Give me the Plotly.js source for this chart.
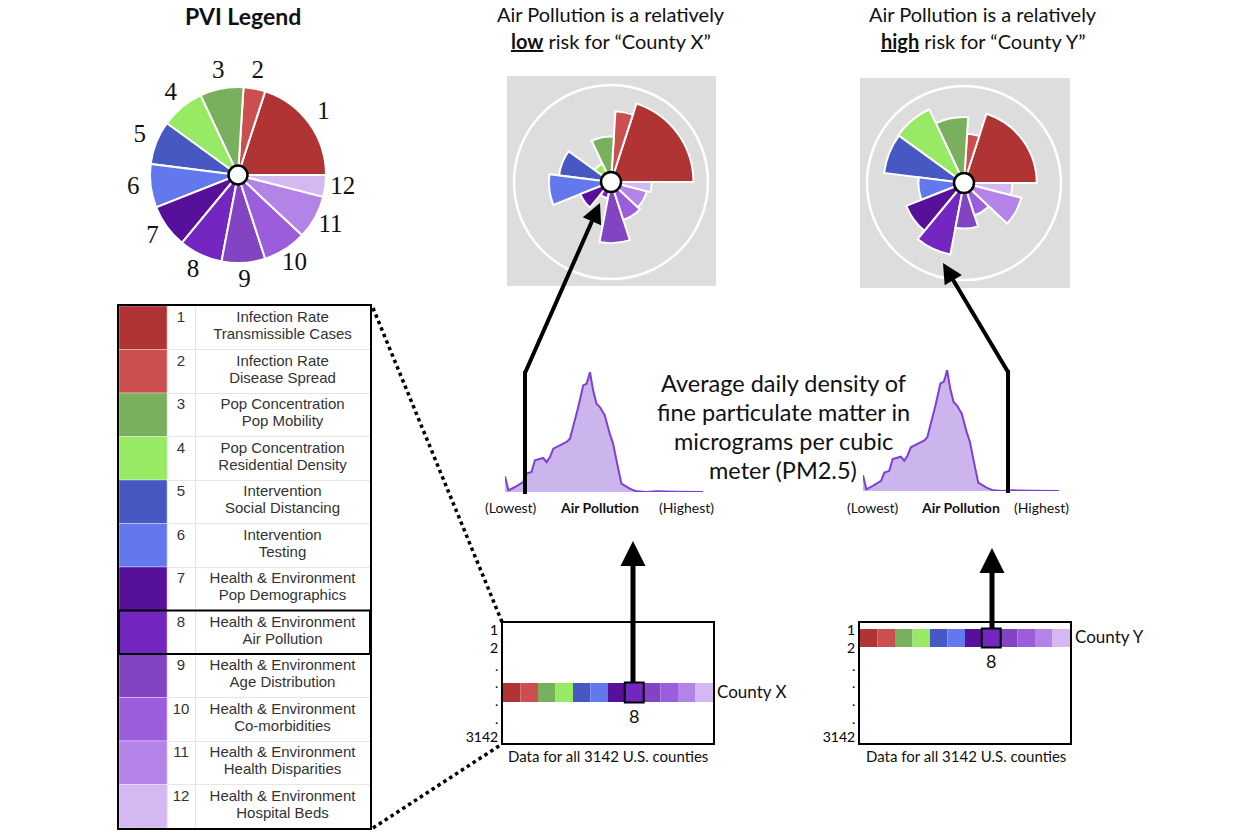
<!DOCTYPE html>
<html><head><meta charset="utf-8">
<script src="https://cdn.plot.ly/plotly-3.0.1.min.js"></script>
<style>html,body{margin:0;padding:0;background:#fff}#chart{width:1254px;height:836px}</style>
</head><body><div id="chart"></div>
<script>
// ---------------- DATA ----------------
const factorIds = [1,2,3,4,5,6,7,8,9,10,11,12];
const factorGroups = ['Infection Rate','Infection Rate','Pop Concentration','Pop Concentration','Intervention','Intervention',
  'Health & Environment','Health & Environment','Health & Environment','Health & Environment','Health & Environment','Health & Environment'];
const factorNames = ['Transmissible Cases','Disease Spread','Pop Mobility','Residential Density','Social Distancing','Testing',
  'Pop Demographics','Air Pollution','Age Distribution','Co-morbidities','Health Disparities','Hospital Beds'];
const factorWeights = [20,4,8,8,8,8,8,8,8,8,8,4];          // percent of the circle
const legendRadius = [1,1,1,1,1,1,1,1,1,1,1,1];
const countyXScores = [0.85,0.73,0.47,0.21,0.54,0.64,0.34,0.17,0.63,0.41,0.38,0.42];
const countyYScores = [0.75,0.51,0.68,0.84,0.83,0.47,0.64,0.75,0.47,0.35,0.61,0.50];
const pm25Level   = [0,1.7,5.0,9.2,10.9,13.4,15.1,17.6,19.3,21.0,22.7,24.4,26.1,31.1,32.8,35.3,37.0,39.5,41.2,42.0,42.9,44.5,46.2,47.9,50.4,52.9,54.6,56.3,58.8,63.0,66.4,71.4,76.5,86.6,100];
const pm25Density = [47,5,15,30,55,60,95,100,102,90,105,130,135,150,160,215,255,320,325,340,360,305,265,255,230,175,145,95,25,10,2,0,2,1,0];
const countyXPollution = 10.1;
const countyYPollution = 74;
const highlightedFactor = 8;
const countyRowLabels = ['1','2','.','.','.','.','3142'];
const countyXName = 'County X', countyYName = 'County Y';

// ---------------- STYLE ----------------
const factorColors = ['#b03434','#cc4f4f','#78b05e','#98ea64','#4758c3','#6478ee','#56109a','#7326c0','#8244c2','#9b5ddc','#b383e8','#d4b8f1'];
const W = 1254, H = 836;
const P = x => x / W, Q = y => 1 - y / H;
const SANS = 'Lato, "Open Sans", sans-serif';
const TABLE_FONT = '"Liberation Sans", Arial, sans-serif';
const SERIF = '"Liberation Serif", "DejaVu Serif", serif';

const widths = factorWeights.map(w => w * 3.6);
let acc = 0;
const thetas = widths.map(w => { const t = acc + w / 2; acc += w; return t; });

const LEG_RMAX = 1.3;
const LEG = {cx:238, cy:175, R:88 * LEG_RMAX};
const RX = {cx:611, cy:182, R:97};
const RY = {cx:964, cy:183, R:97};

function polarCfg(c, outline, rmax) {
  return {
    domain: {x:[P(c.cx - c.R), P(c.cx + c.R)], y:[Q(c.cy + c.R), Q(c.cy - c.R)]},
    bgcolor: 'rgba(0,0,0,0)',
    radialaxis: {visible:false, range:[0, rmax]},
    angularaxis: {visible:true, showline:outline, linecolor:'#ffffff', linewidth:2.5, showgrid:false,
      showticklabels:false, ticks:'', rotation:0, direction:'counterclockwise'}
  };
}
function rose(r, sub) {
  return {type:'barpolar', subplot:sub, r:r, theta:thetas, width:widths,
    marker:{color:factorColors, line:{color:'#ffffff', width:2}}, hoverinfo:'skip'};
}

const HX = {x0:505, x1:703, y0:492, y1:372};
const HY = {x0:863, x1:1059, y0:491, y1:370};
const BX = {x0:503, x1:713, y0:623, y1:743, stripTop:60, stripH:19};
const BY = {x0:860, x1:1070, y0:623, y1:743, stripTop:6, stripH:18};
const ROW_TICK_POS = [7,25,43,60,78,96,114];
const TB = {x0:119, x1:370, y0:306, y1:828, sw:48, nw:76};

const traces = [];
// PVI legend pie
traces.push(rose(legendRadius, 'polar'));
traces.push({type:'scatterpolar', subplot:'polar', mode:'text', r:factorIds.map(()=>1.2), theta:thetas,
  text:factorIds.map(String), textfont:{family:SERIF, size:25, color:'#111'}, cliponaxis:false, hoverinfo:'skip'});
// County roses
traces.push(rose(countyXScores, 'polar2'));
traces.push(rose(countyYScores, 'polar3'));

// Histograms
function hist(xa, ya) {
  return {type:'scatter', mode:'lines', x:pm25Level, y:pm25Density, xaxis:xa, yaxis:ya, fill:'tozeroy',
    fillcolor:'#ccb4ec', line:{color:'#7d3fd6', width:2}, cliponaxis:false, hoverinfo:'skip'};
}
traces.push(hist('x','y'));
traces.push(hist('x2','y2'));

// Strips
function strip(xa, ya, b) {
  return [{type:'bar', x:factorIds, y:factorIds.map(()=>b.stripH), base:factorIds.map(()=>b.stripTop), width:1,
    xaxis:xa, yaxis:ya, marker:{color:factorColors, line:{width:0}}, hoverinfo:'skip'},
   {type:'bar', x:[highlightedFactor], y:[b.stripH + 1], base:[b.stripTop - 0.5], width:1.08,
    xaxis:xa, yaxis:ya, marker:{color:'rgba(0,0,0,0)', line:{color:'#000', width:2}}, hoverinfo:'skip'}];
}
traces.push(...strip('x3','y3',BX));
traces.push(...strip('x4','y4',BY));

// Legend table
traces.push({type:'bar', orientation:'h', y:factorIds, x:factorIds.map(()=>TB.sw), base:0, width:1,
  xaxis:'x5', yaxis:'y5', marker:{color:factorColors, line:{color:'rgba(255,255,255,0.35)', width:1}}, hoverinfo:'skip'});
const labCx = (TB.nw + (TB.x1 - TB.x0)) / 2;
traces.push({type:'scatter', mode:'text', xaxis:'x5', yaxis:'y5', x:factorIds.map(()=>(TB.sw + TB.nw)/2),
  y:factorIds.map(i=>i-0.21), text:factorIds.map(String), textfont:{family:TABLE_FONT, size:15, color:'#333'}, hoverinfo:'skip'});
traces.push({type:'scatter', mode:'text', xaxis:'x5', yaxis:'y5', x:factorIds.map(()=>labCx),
  y:factorIds.map(i=>i-0.21), text:factorGroups, textfont:{family:TABLE_FONT, size:15, color:'#333'}, hoverinfo:'skip'});
traces.push({type:'scatter', mode:'text', xaxis:'x5', yaxis:'y5', x:factorIds.map(()=>labCx),
  y:factorIds.map(i=>i+0.18), text:factorNames, textfont:{family:TABLE_FONT, size:15, color:'#333'}, hoverinfo:'skip'});

// ---------------- LAYOUT ----------------
const hidden = {visible:false, fixedrange:true};
function boxX(b, anchor) {
  return {domain:[P(b.x0), P(b.x1)], range:[0.5,12.5], anchor:anchor, showline:true, mirror:true, linecolor:'#000',
    linewidth:2, showgrid:false, zeroline:false, showticklabels:false, ticks:''};
}
function boxY(b, anchor) {
  return {domain:[Q(b.y1), Q(b.y0)], range:[120,0], anchor:anchor, showline:true, mirror:true, linecolor:'#000',
    linewidth:2, showgrid:false, zeroline:false, tickmode:'array', tickvals:ROW_TICK_POS, ticktext:countyRowLabels,
    tickfont:{family:SANS, size:14, color:'#000'}, ticks:''};
}

function ann(text, x, y, size, extra) {
  return Object.assign({text:text, x:P(x), y:Q(y), xref:'paper', yref:'paper', showarrow:false,
    xanchor:'center', yanchor:'middle', font:{family:SANS, size:size, color:'#111'}}, extra || {});
}
function arrow(tipX, tipY, tailX, tailY, w) {
  return {text:'', x:P(tipX), y:Q(tipY), xref:'paper', yref:'paper', showarrow:true, axref:'pixel', ayref:'pixel',
    ax:tailX - tipX, ay:tailY - tipY, arrowcolor:'#000', arrowwidth:w, arrowhead:2, arrowsize:1, standoff:0,
    font:{size:1}, borderpad:0};
}
const hxPix = HX.x0 + countyXPollution / 100 * (HX.x1 - HX.x0);
const hyPix = HY.x0 + countyYPollution / 100 * (HY.x1 - HY.x0);

const annotations = [
  ann('<b>PVI Legend</b>', 243, 16, 23),
  ann('Air Pollution is a relatively', 611, 14, 20),
  ann('<b><u>low</u></b> risk for “' + countyXName + '”', 611, 41, 20),
  ann('Air Pollution is a relatively', 983, 14, 20),
  ann('<b><u>high</u></b> risk for “' + countyYName + '”', 983, 41, 20),
  ann('Average daily density of', 783, 383, 23.5),
  ann('fine particulate matter in', 783, 412, 23.5),
  ann('micrograms per cubic', 783, 441, 23.5),
  ann('meter (PM2.5)', 783, 470, 23.5),
  ann('(Lowest)', 511, 508, 14), ann('<b>Air Pollution</b>', 599, 508, 14), ann('(Highest)', 686, 508, 14),
  ann('(Lowest)', 873, 508, 14), ann('<b>Air Pollution</b>', 960, 508, 14), ann('(Highest)', 1041, 508, 14),
  {text:String(highlightedFactor), x:highlightedFactor, y:BX.stripTop + BX.stripH + 1, xref:'x3', yref:'y3', showarrow:false,
    yanchor:'top', font:{family:SANS, size:18, color:'#111'}},
  {text:String(highlightedFactor), x:highlightedFactor, y:BY.stripTop + BY.stripH + 1, xref:'x4', yref:'y4', showarrow:false,
    yanchor:'top', font:{family:SANS, size:18, color:'#111'}},
  ann(countyXName, 715, 691, 17, {xanchor:'left'}),
  ann(countyYName, 1073, 636, 17, {xanchor:'left'}),
  ann('Data for all 3142 U.S. counties', 608, 756, 15),
  ann('Data for all 3142 U.S. counties', 966, 756, 15),
  arrow(633, 541, 633, 683, 5),
  arrow(992, 548, 992, 629, 5),
  arrow(600, 203, hxPix, 373, 4),
  arrow(943, 263, hyPix, 372, 4)
];

function circle(c, r) {
  return {type:'circle', xref:'paper', yref:'paper', x0:P(c.cx - r), x1:P(c.cx + r), y0:Q(c.cy + r), y1:Q(c.cy - r),
    fillcolor:'#ffffff', line:{color:'#000', width:2.5}, layer:'above'};
}
const shapes = [
  {type:'rect', xref:'paper', yref:'paper', x0:P(507), x1:P(716), y0:Q(286), y1:Q(76), fillcolor:'#dddddd', line:{width:0}, layer:'below'},
  {type:'rect', xref:'paper', yref:'paper', x0:P(860), x1:P(1070), y0:Q(288), y1:Q(78), fillcolor:'#dddddd', line:{width:0}, layer:'below'},
  circle(LEG, 9.5), circle(RX, 10), circle(RY, 10),
  {type:'line', xref:'x', yref:'paper', x0:countyXPollution, x1:countyXPollution, y0:Q(HX.y0 + 2), y1:Q(371), line:{color:'#000', width:4}},
  {type:'line', xref:'x2', yref:'paper', x0:countyYPollution, x1:countyYPollution, y0:Q(HY.y0 + 2), y1:Q(370), line:{color:'#000', width:4}},
  {type:'line', xref:'paper', yref:'paper', x0:P(373), y0:Q(308), x1:P(502), y1:Q(622), line:{color:'#000', width:3.5, dash:'dot'}},
  {type:'line', xref:'paper', yref:'paper', x0:P(373), y0:Q(828), x1:P(502), y1:Q(744), line:{color:'#000', width:3.5, dash:'dot'}},
  {type:'rect', xref:'x5', yref:'y5', x0:0, x1:TB.x1 - TB.x0, y0:highlightedFactor - 0.5, y1:highlightedFactor + 0.5,
    line:{color:'#000', width:2}, layer:'above'}
];

const layout = {
  width:W, height:H, margin:{l:0, r:0, t:0, b:0}, paper_bgcolor:'#fff', plot_bgcolor:'rgba(0,0,0,0)',
  showlegend:false, barmode:'overlay', font:{family:SANS},
  polar: polarCfg(LEG, false, LEG_RMAX), polar2: polarCfg(RX, true, 1), polar3: polarCfg(RY, true, 1),
  xaxis: Object.assign({domain:[P(HX.x0), P(HX.x1)], range:[0,100], anchor:'y'}, hidden),
  yaxis: Object.assign({domain:[Q(HX.y0), Q(HX.y1)], range:[0,360], anchor:'x'}, hidden),
  xaxis2: Object.assign({domain:[P(HY.x0), P(HY.x1)], range:[0,100], anchor:'y2'}, hidden),
  yaxis2: Object.assign({domain:[Q(HY.y0), Q(HY.y1)], range:[0,360], anchor:'x2'}, hidden),
  xaxis3: boxX(BX, 'y3'), yaxis3: boxY(BX, 'x3'),
  xaxis4: boxX(BY, 'y4'), yaxis4: boxY(BY, 'x4'),
  xaxis5: {domain:[P(TB.x0), P(TB.x1)], range:[0, TB.x1 - TB.x0], anchor:'y5', showline:true, mirror:true, linecolor:'#000',
    linewidth:2, tickmode:'array', tickvals:[TB.sw, TB.nw], showgrid:true, gridcolor:'#e6e6e6', showticklabels:false,
    ticks:'', zeroline:false},
  yaxis5: {domain:[Q(TB.y1), Q(TB.y0)], range:[12.5, 0.5], anchor:'x5', showline:true, mirror:true, linecolor:'#000',
    linewidth:2, tickmode:'array', tickvals:factorIds.slice(0, 11).map(i => i + 0.5), showgrid:true, gridcolor:'#e6e6e6',
    showticklabels:false, ticks:'', zeroline:false},
  annotations: annotations,
  shapes: shapes
};

Plotly.newPlot('chart', traces, layout, {staticPlot:true, displayModeBar:false});
</script>
</body></html>
